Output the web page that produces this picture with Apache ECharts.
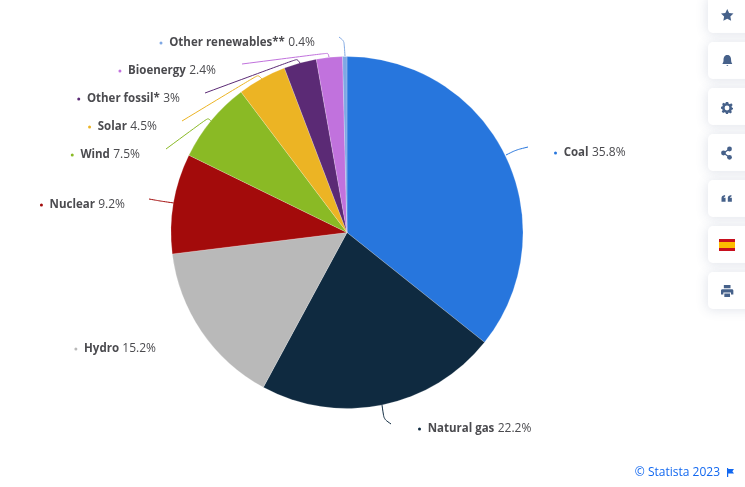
<!DOCTYPE html>
<html><head><meta charset="utf-8">
<style>html,body{margin:0;padding:0;background:#fff}#c{width:745px;height:487px}</style>
<script src="https://cdn.jsdelivr.net/npm/echarts@6/dist/echarts.min.js"></script>
</head><body><div id="c"></div>
<script>
const categories = ['Coal','Natural gas','Hydro','Nuclear','Wind','Solar','Other fossil*','Bioenergy','Other renewables**'];
const values = [35.8,22.2,15.2,9.2,7.5,4.5,3,2.4,0.4];
const colors = ['#2776dd','#0f2a40','#b9b9b9','#a30b0b','#8aba25','#ecb424','#5b2a75','#c172dd','#7fa8e4'];

// label anchors and leader-line paths (page layout only, not data)
const labelAnchors = [
  [554,153,'left'],[418,429,'left'],[156,349,'right'],[125,205,'right'],[140,155,'right'],
  [157,127,'right'],[180,99,'right'],[216,71,'right'],[315,43,'right']
];
const leaders = [
  [[506,155],[516,150],[528,147]],
  [[382,405],[384,419],[391,424]],
  null,
  [[174,203],[160,201],[149,199]],
  [[212,122],[208,118],[166,149]],
  [[262,79],[258,75],[182,121]],
  [[300,63],[297,59],[205,93]],
  [[329,57],[328,53],[242,64]],
  [[345,56],[344,41],[339,37]]
];
const iconColor = '#46618a';
const btnTops = [-4,42,88,134,180,226,272];
const iconPaths = [
  'M8 0 L10.4 5 L16 5.8 L12 9.6 L13 15 L8 12.4 L3 15 L4 9.6 L0 5.8 L5.6 5 Z',
  'M7 0 C3 0 2 3.5 2 7 C2 9.5 1 10.5 0.5 12 L13.5 12 C13 10.5 12 9.5 12 7 C12 3.5 11 0 7 0 Z M5.5 13 L8.5 13 L7 14.5 Z',
  'M6 0 L9 0 L9.4 2 L11 2.8 L12.8 1.7 L14.6 3.8 L13.2 5.4 L13.6 7 L15 7.5 L15 9 L13.4 9.6 L12.8 11 L13.6 12.8 L11.6 14.4 L10 13.2 L9 13.6 L8.8 15 L6.2 15 L5.8 13.4 L4.4 12.8 L2.6 13.8 L0.9 12 L2 10.2 L1.5 8.8 L0 8.4 L0 6 L1.6 5.6 L2.2 4.2 L1.4 2.4 L3.2 1 L4.8 2 L5.8 1.6 Z',
  null,
  'M0 3.5 C0 1.5 1.2 0.5 4 0 L4 1.6 C3 1.9 2.6 2.3 2.5 3 L4.5 3 L4.5 7.5 L0 7.5 Z M7 3.5 C7 1.5 8.2 0.5 11 0 L11 1.6 C10 1.9 9.6 2.3 9.5 3 L11.5 3 L11.5 7.5 L7 7.5 Z',
  null,
  'M3 0 L10 0 L10 3.5 L3 3.5 Z M1.5 4.5 L11.5 4.5 C12.4 4.5 13 5.1 13 6 L13 10 L10.5 10 L10.5 8 L2.5 8 L2.5 10 L0 10 L0 6 C0 5.1 0.6 4.5 1.5 4.5 Z M3.5 9 L9.5 9 L9.5 12.5 L3.5 12.5 Z'
];
const iconPlacement = [[721,9,0.78],[722,55,0.76],[721,102,0.8],null,[721.5,195,0.9],null,[721,285,0.95]];
const footerFlagPath = 'M0 0 L1.2 0 L1.2 1 L7 1 L5.4 3.2 L7 5.6 L1.2 5.6 L1.2 9 L0 9 Z';

function registerIcon(name, d){
  echarts.graphic.registerShape(name, echarts.graphic.extendPath(d, {}));
}
iconPaths.forEach((d,i)=>{ if(d) registerIcon('icon'+i, d); });
registerIcon('footerFlag', footerFlagPath);

const graphics = [];
btnTops.forEach((t,i)=>{
  graphics.push({type:'rect',silent:true,z:1,shape:{x:708,y:t,width:60,height:37,r:5},
    style:{fill:'#fff',shadowColor:'rgba(70,90,130,0.16)',shadowBlur:12,shadowOffsetX:-1,shadowOffsetY:1}});
  if(iconPaths[i]){
    const p=iconPlacement[i];
    graphics.push({type:'icon'+i,silent:true,z:2,x:p[0],y:p[1],scaleX:p[2],scaleY:p[2],style:{fill:iconColor}});
  }
});
// gear hole
graphics.push({type:'circle',silent:true,z:3,shape:{cx:727,cy:108,r:2.4},style:{fill:'#fff'}});
// share icon
[[729.5,149],[723.5,153],[729.5,157.3]].forEach(c=>{
  graphics.push({type:'circle',silent:true,z:2,shape:{cx:c[0],cy:c[1],r:2.4},style:{fill:iconColor}});
});
graphics.push({type:'polyline',silent:true,z:2,shape:{points:[[729.5,149],[723.5,153],[729.5,157.3]]},
  style:{stroke:iconColor,lineWidth:1.3,fill:'none'}});
// Spanish flag
graphics.push({type:'rect',silent:true,z:2,shape:{x:719,y:239,width:16,height:12},style:{fill:'#c8101e'}});
graphics.push({type:'rect',silent:true,z:3,shape:{x:719,y:242,width:16,height:6},style:{fill:'#fdbd00'}});
graphics.push({type:'text',silent:true,z:2,x:720,y:473,
  style:{text:'© Statista 2023',fill:'#1268f0',font:'12px "Open Sans"',align:'right',verticalAlign:'middle'}});
graphics.push({type:'footerFlag',silent:true,z:2,x:727,y:468,style:{fill:'#1268f0'}});

const rich = {
  n:{fontFamily:'Open Sans',fontSize:11.5,fontWeight:'bold',color:'#4b4b4f'},
  v:{fontFamily:'Open Sans',fontSize:12,color:'#4b4b4f'}
};
colors.forEach((c,i)=>{rich['d'+i]={width:3,height:3,backgroundColor:c,borderRadius:2};});

const chart = echarts.init(document.getElementById('c'),null,{renderer:'canvas'});
chart.setOption({
  animation:false,
  backgroundColor:'#fff',
  graphic:graphics,
  series:[{
    type:'pie',
    center:[347,232.5],
    radius:[0,176],
    startAngle:90,
    clockwise:true,
    silent:true,
    avoidLabelOverlap:false,
    itemStyle:{borderColor:'#fff',borderWidth:0.2},
    data:categories.map((name,i)=>({
      name,value:values[i],
      itemStyle:{color:colors[i]},
      labelLine:{show:!!leaders[i],smooth:0.25,lineStyle:{color:colors[i],width:1}},
      label:{formatter:()=>`{d${i}|}  {n|${name}} {v|${values[i]}%}`}
    })),
    label:{show:true,position:'outer',rich},
    labelLayout(p){
      const a=labelAnchors[p.dataIndex];
      const out={x:a[0],y:a[1],align:a[2],verticalAlign:'middle',hideOverlap:false};
      if(leaders[p.dataIndex]) out.labelLinePoints=leaders[p.dataIndex];
      return out;
    }
  }]
});
</script></body></html>
